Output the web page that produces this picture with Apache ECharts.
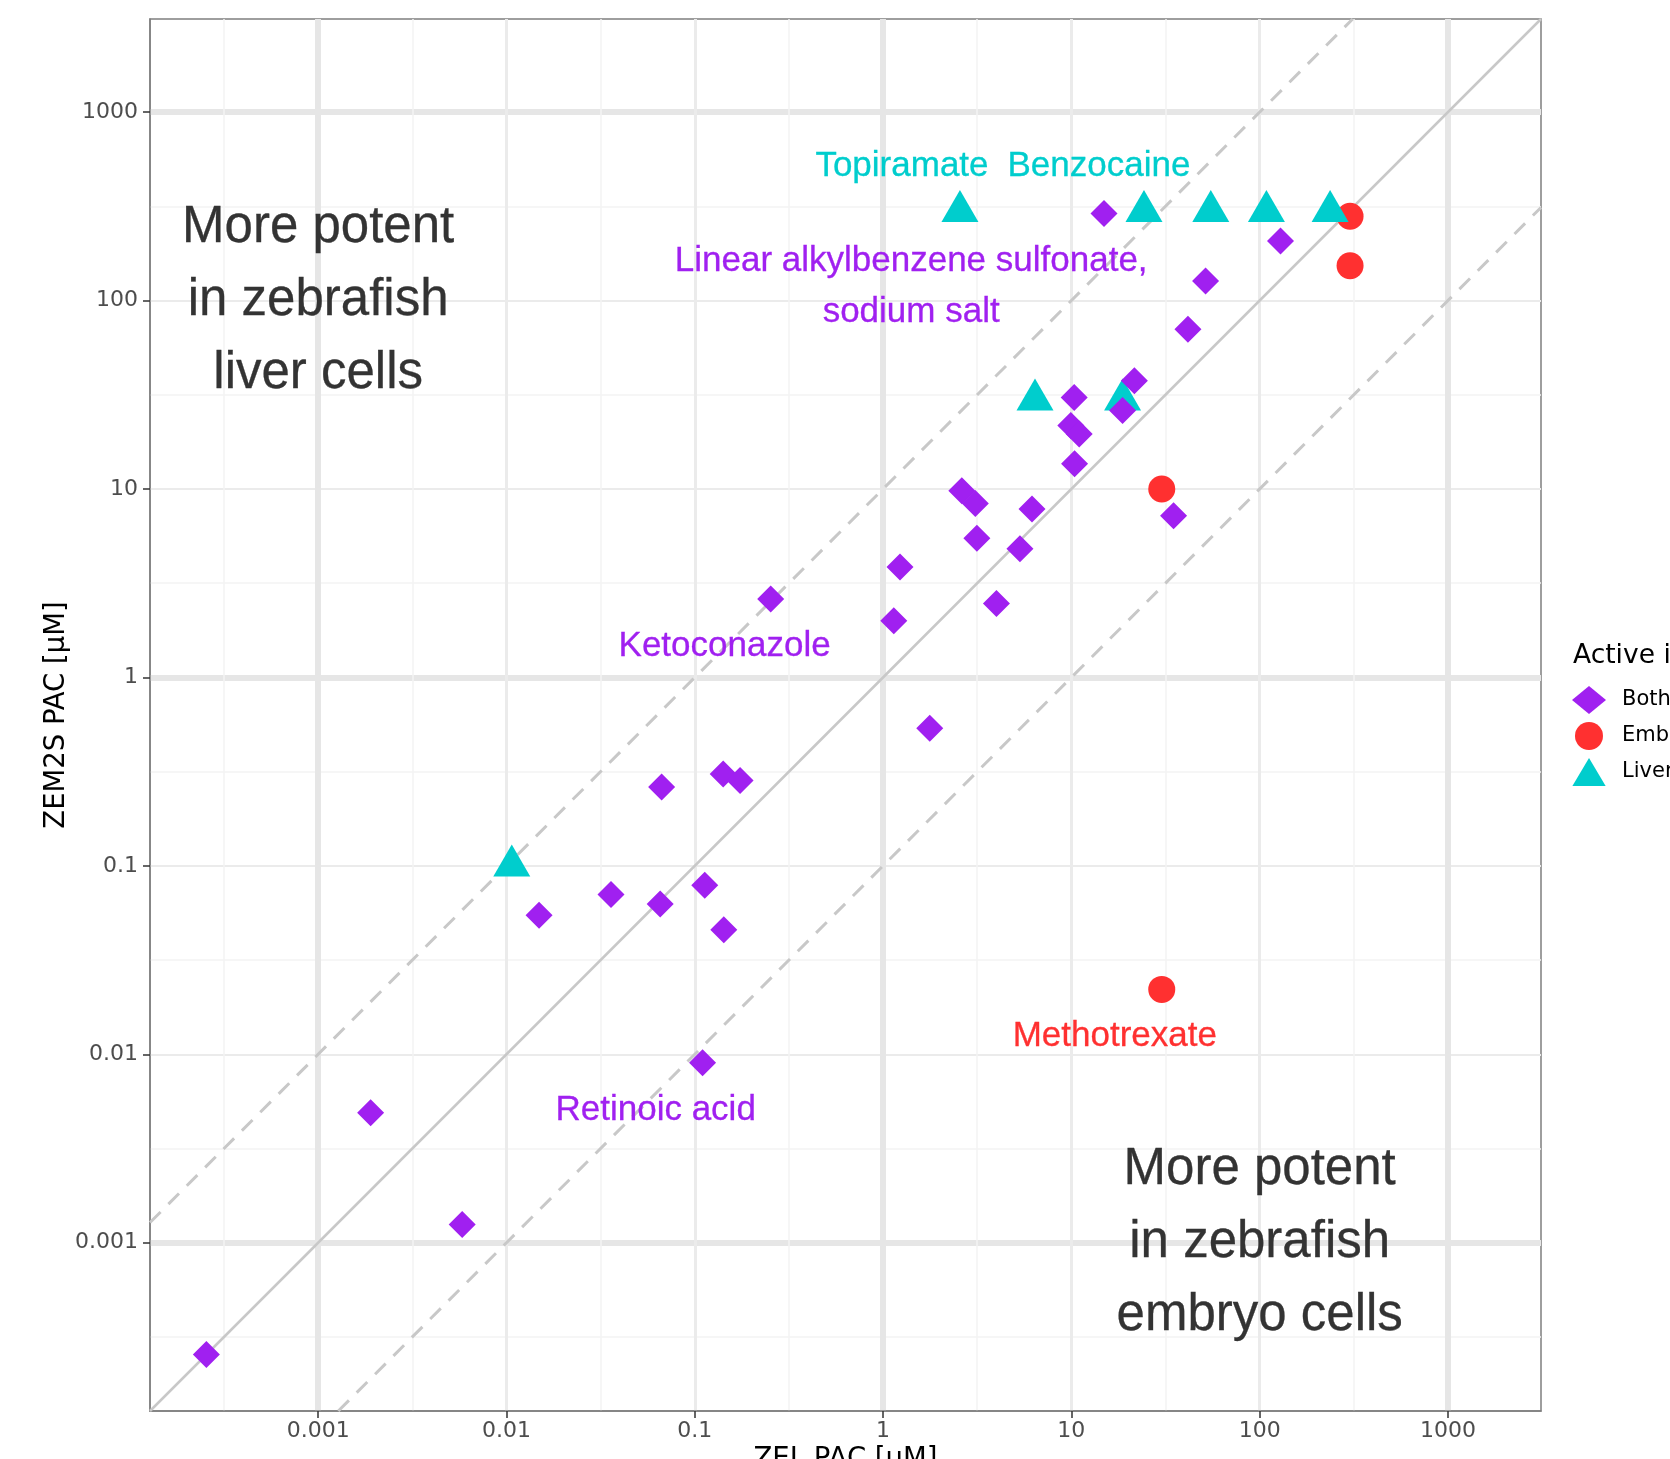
<!DOCTYPE html>
<html>
<head>
<meta charset="utf-8">
<script src="https://cdn.jsdelivr.net/npm/echarts@6/dist/echarts.min.js"></script>
<style>
html,body{margin:0;padding:0;background:#fff;}
#chart{width:1670px;height:1459px;}
</style>
</head>
<body>
<div id="chart"></div>
<script>
// ---------- data ----------
const tickExponents = [-3, -2, -1, 0, 1, 2, 3];
const tickLabels = ['0.001', '0.01', '0.1', '1', '10', '100', '1000'];
const axisLimitsLog10 = [-3.893, 3.494];

const bothX = [0.000255, 0.0019, 0.00582, 0.0149, 0.0359, 0.0655, 0.0667, 0.113, 0.1416, 0.174, 0.1426, 0.110, 0.253, 1.14, 1.23, 1.77, 2.62, 3.09, 3.15, 4.0, 5.33, 6.18, 10.35, 9.93, 11.0, 10.4, 18.7, 21.6, 34.9, 41.6, 51.6, 14.9, 129];
const bothY = [0.000255, 0.0049, 0.00125, 0.0547, 0.0705, 0.0627, 0.262, 0.079, 0.3076, 0.284, 0.0458, 0.00902, 2.61, 2.0, 3.85, 0.538, 9.77, 8.38, 5.48, 2.47, 4.81, 7.82, 30.6, 21.7, 19.6, 13.6, 26.1, 37.5, 7.21, 70.3, 127, 290, 207];

const embryoX = [302, 302, 30.2, 30.2];
const embryoY = [280, 153, 10, 0.0221];

const liverX = [0.01067, 2.56, 24.3, 55, 108.6, 236.6, 6.41, 18.7];
const liverY = [0.1, 297, 297, 297, 297, 297, 29.7, 29.7];

const labelTexts = ['Topiramate', 'Benzocaine', 'Linear alkylbenzene sulfonate,\nsodium salt', 'Ketoconazole', 'Retinoic acid', 'Methotrexate'];
const labelX = [1.26, 14.0, 1.41, 0.144, 0.062, 17.0];
const labelY = [515, 515, 118, 1.47, 0.00506, 0.0125];
const labelGroups = ['Liver', 'Liver', 'Both', 'Both', 'Both', 'Embryo'];

const noteTexts = ['More potent\nin zebrafish\nliver cells', 'More potent\nin zebrafish\nembryo cells'];
const noteX = [0.001, 100];
const noteY = [100, 0.001];

const refFactors = [1, 10, 0.1];

const groupNames = ['Both', 'Embryo', 'Liver'];

// ---------- styles ----------
const groupColors = { Both: '#A020F0', Embryo: '#FF3030', Liver: '#00CDCD' };
const lo = Math.pow(10, axisLimitsLog10[0]);
const hi = Math.pow(10, axisLimitsLog10[1]);
const tickValues = tickExponents.map(e => Math.pow(10, e));
function fmtTick(v) {
  const e = Math.round(Math.log10(v));
  const i = tickExponents.indexOf(e);
  return i >= 0 ? tickLabels[i] : '';
}
function pts(xs, ys) { return xs.map((x, i) => [x, ys[i]]); }

const hiddenParts = { axisLine: { show: false }, axisTick: { show: false }, axisLabel: { show: false } };

function gridAxis(pos, splitNumber, color, width) {
  return Object.assign({
    type: 'value', position: pos, min: axisLimitsLog10[0], max: axisLimitsLog10[1],
    splitNumber: splitNumber, silent: true,
    splitLine: { show: true, showMinLine: false, showMaxLine: false, lineStyle: { color: color, width: width } }
  }, hiddenParts);
}

function mainAxis(pos, name, nameGap, splitWidth) {
  return {
    type: 'log', logBase: 10, position: pos, min: lo, max: hi,
    axisLine: { show: true, onZero: false, lineStyle: { color: '#7F7F7F', width: 1.5 } },
    axisTick: { show: true, length: 7, customValues: tickValues, lineStyle: { color: '#333333', width: 1.5 } },
    axisLabel: { show: true, customValues: tickValues, margin: pos === 'left' ? 12 : 9, fontSize: 22, color: '#4D4D4D',
      fontFamily: 'DejaVu Sans', formatter: fmtTick },
    splitLine: { show: true, showMinLine: false, showMaxLine: false, lineStyle: { color: '#EBEBEB', width: splitWidth } },
    minorTick: { show: false }, minorSplitLine: { show: false },
    name: name, nameLocation: 'middle', nameGap: nameGap, nameMoveOverlap: false,
    nameTextStyle: { fontSize: 27.5, color: '#000000', fontFamily: 'DejaVu Sans' }
  };
}

const xAxes = [
  gridAxis('bottom', 15, '#F3F3F3', 1.5),
  mainAxis('bottom', 'ZEL PAC [µM]', 35, 3),
  gridAxis('bottom', 2, '#E6E6E6', 6)
];
const yAxes = [
  gridAxis('left', 15, '#F3F3F3', 1.5),
  mainAxis('left', 'ZEM2S PAC [µM]', 79, 2),
  gridAxis('left', 2, '#E6E6E6', 6)
];

const refSeries = refFactors.map(k => {
  const x0 = k >= 1 ? lo : lo / k;
  const x1 = k >= 1 ? hi / k : hi;
  return {
    type: 'line', xAxisIndex: 1, yAxisIndex: 1, silent: true, symbol: 'none', z: 3,
    data: [[x0, k * x0], [x1, k * x1]],
    lineStyle: { color: '#C8C8C8', width: k === 1 ? 2.5 : 3, type: k === 1 ? 'solid' : [15, 11] }
  };
});

const triH = 32;
const pointSeries = [
  { name: 'Embryo', type: 'scatter', xAxisIndex: 1, yAxisIndex: 1, symbol: 'circle', symbolSize: 27,
    itemStyle: { color: groupColors.Embryo, opacity: 1 }, data: pts(embryoX, embryoY), z: 4 },
  { name: 'Liver', type: 'scatter', xAxisIndex: 1, yAxisIndex: 1, symbol: 'triangle', symbolSize: [37, triH],
    symbolOffset: [0, -triH / 6], itemStyle: { color: groupColors.Liver, opacity: 1 }, data: pts(liverX, liverY), z: 4 },
  { name: 'Both', type: 'scatter', xAxisIndex: 1, yAxisIndex: 1, symbol: 'diamond', symbolSize: 27,
    itemStyle: { color: groupColors.Both, opacity: 1 }, data: pts(bothX, bothY), z: 4 }
];

const labelSeries = {
  type: 'scatter', xAxisIndex: 1, yAxisIndex: 1, silent: true, symbolSize: 1, z: 6,
  itemStyle: { color: 'rgba(0,0,0,0)', opacity: 1 },
  data: labelTexts.map((t, i) => {
    const c = groupColors[labelGroups[i]];
    return { name: t, value: [labelX[i], labelY[i]], label: { color: c, textBorderColor: c } };
  }),
  label: { show: true, opacity: 1, position: 'inside', formatter: p => p.name, fontSize: 35, lineHeight: 51,
    fontFamily: 'Liberation Sans', align: 'center', verticalAlign: 'middle', textBorderWidth: 0.3 }
};

const noteSeries = {
  type: 'scatter', xAxisIndex: 1, yAxisIndex: 1, silent: true, symbolSize: 1, z: 6,
  itemStyle: { color: 'rgba(0,0,0,0)', opacity: 1 },
  data: noteTexts.map((t, i) => ({ name: t, value: [noteX[i], noteY[i]] })),
  label: { show: true, opacity: 1, position: 'inside', formatter: p => p.name, fontSize: 51, lineHeight: 73,
    color: '#333333', textBorderColor: '#333333', textBorderWidth: 0.3,
    fontFamily: 'Liberation Sans', align: 'center', verticalAlign: 'middle' }
};

const chart = echarts.init(document.getElementById('chart'), null, { renderer: 'canvas' });
chart.setOption({
  animation: false,
  backgroundColor: '#ffffff',
  title: { text: 'Active in', left: 1573, top: 643, padding: 0,
    textStyle: { fontSize: 26.5, fontWeight: 'normal', color: '#000000', fontFamily: 'DejaVu Sans' } },
  legend: {
    data: [
      { name: groupNames[0] },
      { name: groupNames[1] },
      { name: groupNames[2], icon: 'path://M19,0 L38,32 L0,32 Z' }
    ],
    orient: 'vertical', left: 1572, top: 686, padding: 0,
    itemWidth: 34, itemHeight: 28, itemGap: 8, selectedMode: false, symbolKeepAspect: true,
    textStyle: { fontSize: 21, color: '#000000', fontFamily: 'DejaVu Sans', padding: [0, 0, 0, 11] } },
  grid: { left: 150, top: 19, width: 1391, height: 1392, show: true, borderColor: '#7F7F7F', borderWidth: 1.5,
    backgroundColor: '#ffffff', containLabel: false, outerBoundsMode: 'none' },
  xAxis: xAxes,
  yAxis: yAxes,
  series: refSeries.concat(pointSeries, [labelSeries, noteSeries])
});
</script>
</body>
</html>
